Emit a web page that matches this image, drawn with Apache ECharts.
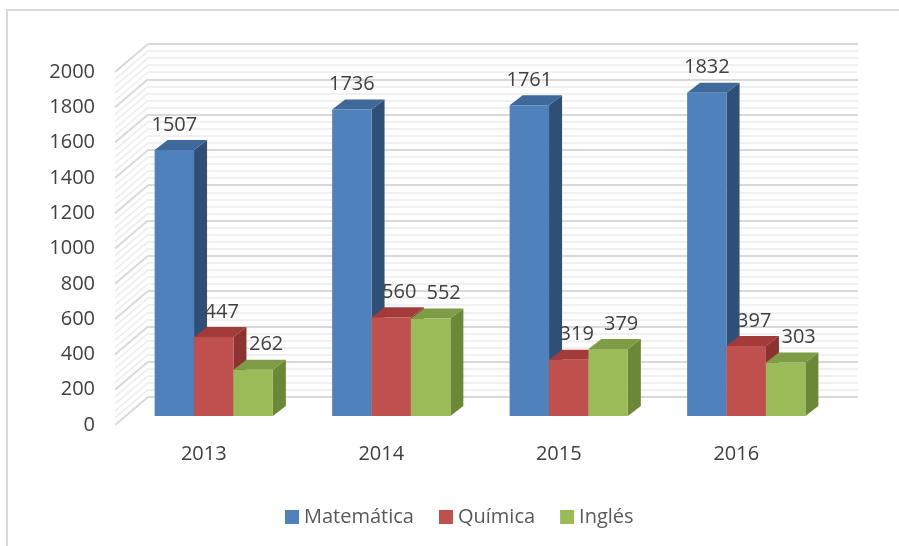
<!DOCTYPE html>
<html>
<head>
<meta charset="utf-8">
<script src="https://cdn.jsdelivr.net/npm/echarts@6/dist/echarts.min.js"></script>
<style>
  html, body { margin: 0; padding: 0; background: #fff; }
  #chart { width: 899px; height: 546px; }
</style>
</head>
<body>
<div id="chart"></div>
<script>
const years = ['2013', '2014', '2015', '2016']
const matematica = [1507, 1736, 1761, 1832]
const quimica = [447, 560, 319, 397]
const ingles = [262, 552, 379, 303]

// lineas de la pared lateral (una cada 40, mayor cada 200)
const wallTicks = []
for (let v = 0; v <= 2000; v += 40) wallTicks.push(v)

const FONT = '"Open Sans", sans-serif'
const DEPTH_X = 33, DEPTH_Y = -28 // profundidad de la pared
const OX = 10, OY = -9 // desplazamiento de las barras respecto al plano frontal
const BX = 13, BY = -10 // profundidad de cada barra

function barRenderer (k, colors, labelDx) {
  return function (params, api) {
    const idx = api.value(0)
    const val = api.value(1)
    const base = api.coord([idx, 0])
    const top = api.coord([idx, val])
    const band = api.size([1, 0])[0]
    const w = band * 0.222
    const x0 = base[0] - 1.5 * w + k * w + OX
    const y0 = base[1] + OY
    const y1 = top[1] + OY
    return {
      type: 'group',
      children: [
        {
          type: 'polygon',
          shape: { points: [[x0 + w, y1], [x0 + w + BX, y1 + BY], [x0 + w + BX, y0 + BY], [x0 + w, y0]] },
          style: { fill: colors[2] }
        },
        {
          type: 'polygon',
          shape: { points: [[x0, y1], [x0 + w, y1], [x0 + w + BX, y1 + BY], [x0 + BX, y1 + BY]] },
          style: { fill: colors[1] }
        },
        {
          type: 'rect',
          shape: { x: x0, y: y1, width: w, height: y0 - y1 },
          style: { fill: colors[0] }
        },
        {
          type: 'text',
          style: {
            text: String(val),
            x: x0 + w / 2 + labelDx,
            y: y1 - 25,
            align: 'center',
            verticalAlign: 'middle',
            fill: '#404040',
            font: '20px ' + FONT
          }
        }
      ]
    }
  }
}

function toData (arr) {
  return arr.map((v, i) => [i, v])
}

const chart = echarts.init(document.getElementById('chart'))

const option = {
  animation: false,
  backgroundColor: '#fff',
  graphic: [
    { type: 'line', shape: { x1: 7, y1: 10, x2: 7, y2: 546 }, style: { stroke: '#d9d9d9', lineWidth: 2 } },
    { type: 'line', shape: { x1: 6, y1: 10, x2: 899, y2: 10 }, style: { stroke: '#d9d9d9', lineWidth: 2 } }
  ],
  legend: {
    left: 280,
    top: 502,
    icon: 'rect',
    itemWidth: 14,
    itemHeight: 14,
    itemGap: 25,
    selectedMode: false,
    textStyle: { fontFamily: FONT, fontSize: 20, color: '#595959' },
    data: ['Matemática', 'Química', 'Inglés']
  },
  grid: [
    { left: 115, right: 74, top: 72, bottom: 121 }, // plano frontal
    { left: 148, right: 41, top: 44, bottom: 149 } // pared del fondo
  ],
  xAxis: [
    {
      type: 'category',
      gridIndex: 0,
      data: years,
      axisLine: { show: false },
      axisTick: { show: false },
      axisLabel: { margin: 19, fontFamily: FONT, fontSize: 20, color: '#404040' }
    },
    { type: 'value', gridIndex: 1, show: false, min: 0, max: 1 }
  ],
  yAxis: [
    {
      type: 'value',
      gridIndex: 0,
      min: 0,
      max: 2000,
      interval: 200,
      axisLine: { show: false },
      axisTick: { show: false },
      splitLine: { show: false },
      axisLabel: {
        margin: 20,
        fontFamily: FONT,
        fontSize: 20,
        color: '#404040',
        formatter: v => String(v)
      }
    },
    {
      type: 'value',
      gridIndex: 1,
      min: 0,
      max: 2000,
      interval: 200,
      axisLine: { show: false },
      axisTick: { show: false },
      axisLabel: { show: false },
      minorTick: { show: false, splitNumber: 5 },
      splitLine: { show: true, lineStyle: { color: '#d9d9d9', width: 2 } },
      minorSplitLine: { show: true, lineStyle: { color: '#ececec', width: 1.5 } }
    }
  ],
  series: [
    {
      type: 'custom',
      name: 'pared',
      xAxisIndex: 0,
      yAxisIndex: 0,
      silent: true,
      clip: false,
      z: 1,
      data: wallTicks.map(v => [0, v]),
      renderItem: function (params, api) {
        const v = api.value(1)
        const p = api.coord([0, v])
        const left = p[0] - api.size([1, 0])[0] / 2
        const major = v % 200 === 0
        return {
          type: 'line',
          shape: { x1: left, y1: p[1], x2: left + DEPTH_X, y2: p[1] + DEPTH_Y },
          style: { stroke: major ? '#d9d9d9' : '#ececec', lineWidth: major ? 2 : 1.5 }
        }
      }
    },
    {
      type: 'custom',
      name: 'Matemática',
      clip: false,
      z: 2,
      itemStyle: { color: '#4f81bd' },
      data: toData(matematica),
      renderItem: barRenderer(0, ['#4f81bd', '#3f689b', '#2f4f77'], 0)
    },
    {
      type: 'custom',
      name: 'Química',
      clip: false,
      z: 2,
      itemStyle: { color: '#c0504d' },
      data: toData(quimica),
      renderItem: barRenderer(1, ['#c0504d', '#a23b39', '#8c3230'], 8)
    },
    {
      type: 'custom',
      name: 'Inglés',
      clip: false,
      z: 2,
      itemStyle: { color: '#9bbb59' },
      data: toData(ingles),
      renderItem: barRenderer(2, ['#9bbb59', '#7e9c45', '#6b8836'], 13)
    }
  ]
}

chart.setOption(option)
window.addEventListener('resize', () => chart.resize())
</script>
</body>
</html>
